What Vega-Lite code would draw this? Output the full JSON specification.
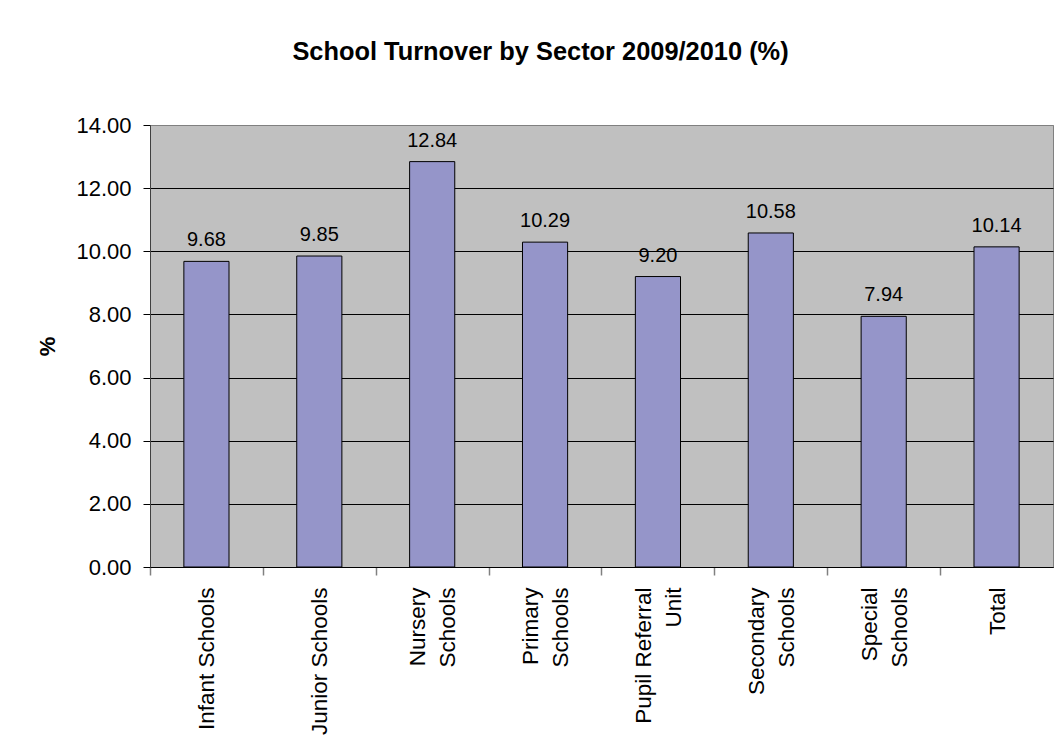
{
  "$schema": "https://vega.github.io/schema/vega-lite/v6.json",
  "autosize": {"type": "none"},
  "width": 903,
  "height": 442,
  "padding": {"left": 150, "top": 125, "right": 2, "bottom": 182},
  "background": "white",
  "config": {
    "font": "Liberation Sans",
    "view": {"fill": "#C0C0C0", "stroke": "#808080", "strokeWidth": 1}
  },
  "title": {
    "text": "School Turnover by Sector 2009/2010 (%)",
    "font": "Liberation Sans",
    "fontSize": 25.4,
    "fontWeight": "bold",
    "color": "black",
    "anchor": "middle",
    "frame": "group",
    "dx": -61,
    "baseline": "alphabetic",
    "offset": 29
  },
  "data": {
    "values": [
      {"sector": "Infant Schools", "pct": 9.68},
      {"sector": "Junior Schools", "pct": 9.85},
      {"sector": "Nursery Schools", "pct": 12.84},
      {"sector": "Primary Schools", "pct": 10.29},
      {"sector": "Pupil Referral Unit", "pct": 9.20},
      {"sector": "Secondary Schools", "pct": 10.58},
      {"sector": "Special Schools", "pct": 7.94},
      {"sector": "Total", "pct": 10.14}
    ]
  },
  "encoding": {
    "x": {
      "field": "sector",
      "type": "nominal",
      "sort": null,
      "scale": {"paddingInner": 0.6, "paddingOuter": 0.3},
      "axis": {
        "title": null,
        "labelAngle": -90,
        "labelFontSize": 22.5,
        "labelColor": "black",
        "labelLineHeight": 30,
        "labelPadding": 12,
        "labelExpr": "datum.label == 'Pupil Referral Unit' ? ['Pupil Referral', 'Unit'] : (datum.label == 'Infant Schools' || datum.label == 'Junior Schools' || datum.label == 'Total') ? datum.label : split(datum.label, ' ')",
        "tickOffset": -56.44,
        "labelOffset": {"condition": {"test": "datum.label == 'Infant Schools' || datum.label == 'Junior Schools' || datum.label == 'Total'", "value": 57}, "value": 42},
        "tickSize": 8,
        "tickColor": "#808080",
        "tickWidth": 1.5,
        "domainColor": "black",
        "domainWidth": 1,
        "grid": false,
        "labelOverlap": false,
        "labelLimit": 0
      }
    },
    "y": {
      "field": "pct",
      "type": "quantitative",
      "scale": {"domain": [0, 14], "nice": false},
      "axis": {
        "title": "%",
        "titleFontSize": 22,
        "titleFontWeight": "bold",
        "titleColor": "black",
        "titleX": -103,
        "titleY": 221,
        "titleAlign": "center",
        "titleBaseline": "middle",
        "titleAngle": -90,
        "values": [0, 2, 4, 6, 8, 10, 12, 14],
        "format": ".2f",
        "labelFontSize": 22,
        "labelColor": "black",
        "labelPadding": 12,
        "tickSize": 7,
        "tickColor": "black",
        "domainColor": "#404040",
        "grid": true,
        "gridColor": {"condition": {"test": "datum.value == 14", "value": "#808080"}, "value": "black"},
        "gridOpacity": 1,
        "gridWidth": 1
      }
    }
  },
  "layer": [
    {
      "mark": {"type": "bar", "fill": "#9595C9", "stroke": "black", "strokeWidth": 1}
    },
    {
      "mark": {"type": "text", "fontSize": 20, "baseline": "alphabetic", "dy": -15, "color": "black", "font": "Liberation Sans"},
      "encoding": {"text": {"field": "pct", "type": "quantitative", "format": ".2f"}}
    }
  ]
}
